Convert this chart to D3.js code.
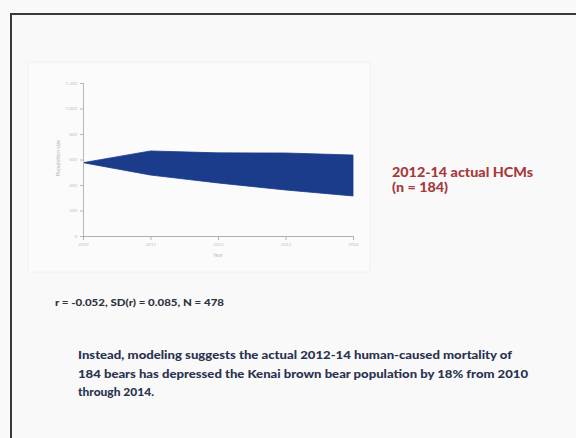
<!DOCTYPE html>
<html>
<head>
<meta charset="utf-8">
<script src="https://cdn.jsdelivr.net/npm/d3@7/dist/d3.min.js"></script>
<style>
  html, body { margin: 0; padding: 0; background: #f9f9f9; }
  svg { display: block; }
</style>
</head>
<body>
<svg id="chart" width="576" height="438"></svg>
<script>
// ---- data ----
const years = [2010, 2011, 2012, 2013, 2014];
const upperBound = [575, 667, 652, 651, 635];   // top of the simulated trajectories
const lowerBound = [575, 478, 416, 361, 314];   // bottom of the simulated trajectories
const yTicks = [0, 200, 400, 600, 800, 1000, 1200];
const statsText = "r = -0.052, SD(r) = 0.085, N = 478";
const noteLines = ["2012-14 actual HCMs", "(n = 184)"];
const bodyLines = [
  "Instead, modeling suggests the actual 2012-14 human-caused mortality of",
  "184 bears has depressed the Kenai brown bear population by 18% from 2010",
  "through 2014."
];

const svg = d3.select("#chart");

// slide frame
svg.append("rect").attr("x", 0).attr("y", 0).attr("width", 576).attr("height", 438).attr("fill", "#f9f9f9");
svg.append("line").attr("x1", 11).attr("x2", 576).attr("y1", 14).attr("y2", 14)
  .attr("stroke", "#3a3a3a").attr("stroke-width", 2);
svg.append("line").attr("x1", 11).attr("x2", 11).attr("y1", 13).attr("y2", 438)
  .attr("stroke", "#3a3a3a").attr("stroke-width", 2);

// pasted chart panel
svg.append("rect").attr("x", 28).attr("y", 62).attr("width", 342).attr("height", 210)
  .attr("fill", "#fbfbfb").attr("stroke", "#f2f2f2");

const x = d3.scaleLinear().domain([2010, 2014]).range([83, 353]);
const y = d3.scaleLinear().domain([0, 1200]).range([236, 83]);

const data = years.map((yr, i) => ({ yr, hi: upperBound[i], lo: lowerBound[i] }));

const area = d3.area()
  .x(d => x(d.yr))
  .y0(d => y(d.lo))
  .y1(d => y(d.hi));

svg.append("path").datum(data).attr("d", area)
  .attr("fill", "#1b3b8b").attr("stroke", "#1b3b8b").attr("stroke-width", 0.8);

// axes
const yAxis = d3.axisLeft(y).tickValues(yTicks).tickSize(3).tickPadding(3);
const gy = svg.append("g").attr("transform", "translate(83,0)").call(yAxis);
gy.selectAll("path, line").attr("stroke", "#b8b8b8");
gy.selectAll("text").attr("fill", "#c4c4c4").attr("font-size", 4.5).attr("font-family", "Lato, sans-serif");

const xAxis = d3.axisBottom(x).tickValues(years).tickFormat(d3.format("d")).tickSize(4).tickPadding(3);
const gx = svg.append("g").attr("transform", "translate(0,236)").call(xAxis);
gx.selectAll("path, line").attr("stroke", "#b0b0b0");
gx.selectAll("text").attr("fill", "#c4c4c4").attr("font-size", 4.5).attr("font-family", "Lato, sans-serif");

svg.append("text").attr("x", 218).attr("y", 257).attr("text-anchor", "middle")
  .attr("font-size", 5).attr("fill", "#bdbdbd").attr("font-family", "Lato, sans-serif").text("Year");
svg.append("text").attr("transform", "translate(60,158) rotate(-90)").attr("text-anchor", "middle")
  .attr("font-size", 5.5).attr("fill", "#b0b0b0").attr("font-family", "Lato, sans-serif").text("Population size");

// stats
svg.append("text").attr("x", 55).attr("y", 306)
  .attr("font-size", 9).attr("font-weight", 900).attr("fill", "#2e3340")
  .attr("font-family", "Lato, sans-serif")
  .attr("textLength", 169).attr("lengthAdjust", "spacingAndGlyphs")
  .text(statsText);

// red note
const noteWidths = [141, 56];
svg.selectAll("text.note").data(noteLines).enter().append("text")
  .attr("class", "note")
  .attr("x", 392).attr("y", (d, i) => 177 + i * 15)
  .attr("font-size", 13).attr("font-weight", 900).attr("fill", "#a63a3c")
  .attr("font-family", "Lato, sans-serif")
  .attr("textLength", (d, i) => noteWidths[i]).attr("lengthAdjust", "spacingAndGlyphs")
  .text(d => d);

// body text
const bodyWidths = [434, 450, 76];
svg.selectAll("text.body").data(bodyLines).enter().append("text")
  .attr("class", "body")
  .attr("x", 78).attr("y", (d, i) => 359 + i * 18.5)
  .attr("font-size", 11.5).attr("font-weight", 900).attr("fill", "#2a3350")
  .attr("font-family", "Lato, sans-serif")
  .attr("textLength", (d, i) => bodyWidths[i]).attr("lengthAdjust", "spacingAndGlyphs")
  .text(d => d);
</script>
</body>
</html>
